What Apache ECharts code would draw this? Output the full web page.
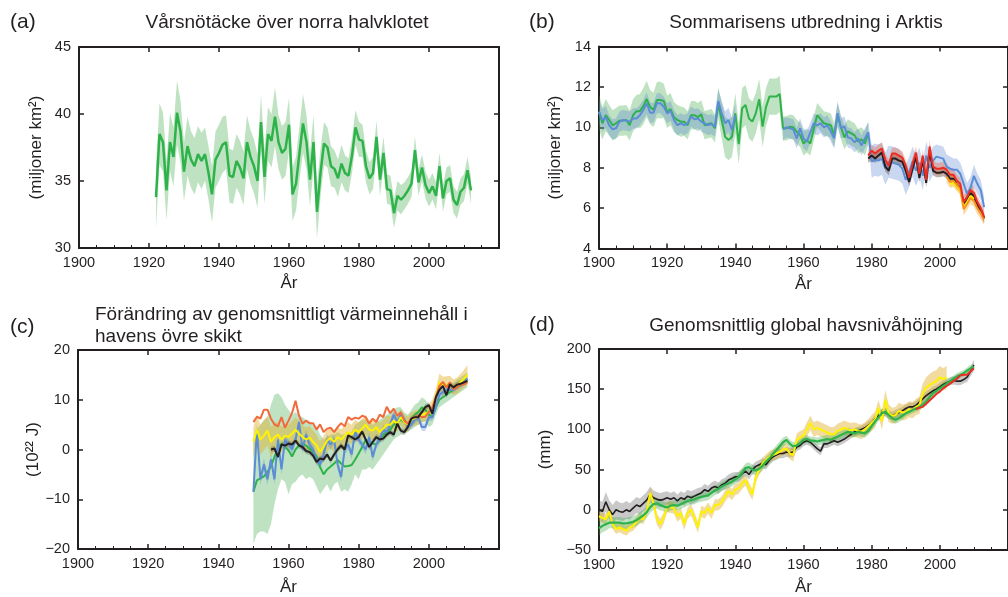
<!DOCTYPE html>
<html><head><meta charset="utf-8">
<script src="https://cdn.jsdelivr.net/npm/echarts@6/dist/echarts.min.js"></script>
<style>html,body{margin:0;padding:0;background:#fff}#c{width:1008px;height:597px}</style>
</head><body><div id="c"></div>
<script>
// ---------- Panel (a): spring snow cover, 1922-2012 ----------
const snowStart = 1922;
const snow = [33.8,38.5,37.9,34.3,37.9,36.8,40.1,38.7,35.7,37.6,
  36.6,36.1,37.0,36.5,37.0,35.6,34.0,36.6,37.1,37.7,
  37.9,35.4,35.3,36.5,36.0,35.2,37.9,36.8,36.1,35.0,
  39.4,35.3,38.5,38.0,39.8,37.9,37.1,37.4,39.2,34.0,
  34.8,37.1,39.3,37.9,35.1,37.9,32.7,35.6,37.8,37.5,
  36.1,35.9,35.2,36.3,35.6,35.4,36.9,39.0,38.1,38.0,
  36.1,35.2,35.6,38.3,35.1,37.1,34.4,34.3,32.6,33.9,
  33.6,33.9,34.3,34.8,37.3,34.9,36.0,34.7,34.1,34.6,
  33.9,36.1,33.7,35.0,35.2,33.6,33.2,34.2,34.5,35.8,
  34.3];
const snowErr = [2.3,2.3,2.2,2.2,2.2,2.2,2.4,2.3,2.2,2.2,
  2.1,2.1,2.1,2.1,2.0,2.0,2.1,2.1,2.1,2.1,
  2.0,2.0,2.0,2.0,2.0,2.0,2.0,2.0,2.0,2.0,
  2.0,2.0,2.0,2.0,2.2,2.0,2.0,2.0,2.0,2.0,
  2.0,2.0,2.2,2.0,2.0,2.0,2.0,1.8,1.6,1.5,
  1.5,1.4,1.4,1.4,1.3,1.3,1.3,1.3,1.3,1.2,
  1.2,1.2,1.2,1.2,1.2,1.2,1.1,1.1,1.1,1.1,
  1.1,1.0,1.0,1.0,1.0,1.0,1.0,1.0,1.0,1.0,
  1.0,1.0,1.0,1.0,1.0,1.0,1.0,1.0,1.0,1.0,
  1.0];

// ---------- Panel (b): Arctic summer sea ice ----------
const iceGreenStart = 1900;
const iceGreen = [10.77,10.2,10.6,10.36,10.1,10.2,10.33,10.33,10.36,10.1,
  10.6,10.8,10.8,11.05,11.4,11.0,10.86,11.35,11.35,11.3,
  10.77,10.9,10.5,10.36,10.28,10.28,10.1,10.6,10.6,10.5,
  10.64,10.1,10.16,10.2,9.95,11.19,10.36,9.53,9.37,9.53,
  10.69,9.17,10.94,11.1,10.44,10.28,10.69,11.39,10.03,11.0,
  11.52,11.52,11.52,11.65,9.95,9.95,10.03,10.0,9.78,9.62,
  9.2,9.35,9.2,9.9,10.6,10.4,10.2,10.15,10.1,9.6,
  10.6,10.0,9.5,9.8,9.7,9.6,9.3,9.4,9.2,9.7];
const iceGreenErr = [0.85,0.8,0.8,0.75,0.75,0.75,0.75,0.75,0.75,0.75,
  0.8,0.8,0.85,0.9,0.9,0.85,0.85,0.9,0.9,0.85,
  0.8,0.8,0.75,0.75,0.75,0.7,0.7,0.7,0.7,0.7,
  0.7,0.7,0.7,0.7,0.7,0.75,0.9,1.0,1.0,1.0,
  1.0,1.0,1.0,1.0,1.0,1.0,1.0,1.0,1.0,0.95,
  0.9,0.9,0.9,0.9,0.6,0.6,0.6,0.6,0.6,0.6,
  0.6,0.6,0.6,0.6,0.6,0.6,0.6,0.6,0.6,0.6,
  0.6,0.6,0.6,0.6,0.6,0.6,0.6,0.6,0.6,0.6];
const iceBlueEarlyStart = 1900;
const iceBlueEarly = [10.77,10.36,10.5,10.1,9.9,9.95,10.28,10.36,10.33,10.28,
  10.44,10.44,10.6,10.86,11.19,10.72,10.72,11.19,11.19,11.02,
  10.69,10.82,10.36,10.11,10.2,10.11,10.2,10.53,10.4,10.44,
  10.28,10.2,10.11,10.16,10.03,11.3,10.69,10.2,10.36,9.87,
  10.6];
const iceBlueEarlyErr = [0.6,0.55,0.55,0.5,0.5,0.5,0.5,0.5,0.5,0.5,
  0.5,0.5,0.5,0.5,0.55,0.5,0.5,0.5,0.5,0.5,
  0.5,0.5,0.5,0.5,0.5,0.5,0.5,0.5,0.5,0.5,
  0.5,0.5,0.5,0.5,0.5,0.6,0.6,0.6,0.6,0.6,
  0.6];
const iceBlueLateStart = 1954;
const iceBlueLate = [9.9,10.0,9.95,9.9,9.45,9.95,9.45,9.3,9.75,10.2,
  10.1,10.2,10.0,10.1,9.8,9.45,10.7,9.95,10.05,9.5,
  9.45,9.25,9.45,9.1,9.45,9.75,8.3,8.4,8.35,8.45,
  7.95,8.3,8.25,8.2,8.15,7.95,7.4,7.8,8.3,7.85,
  8.25,7.6,8.6,8.0,8.35,8.55,8.5,8.45,8.05,7.95,
  7.9,7.9,7.7,7.2,6.7,7.0,7.6,7.2,6.9,6.05];
const iceBlueLateErr = [0.55,0.5,0.5,0.5,0.5,0.5,0.5,0.5,0.5,0.5,
  0.5,0.5,0.5,0.5,0.5,0.5,0.6,0.5,0.5,0.5,
  0.5,0.5,0.5,0.5,0.5,0.5,0.8,0.8,0.8,0.8,
  0.8,0.8,0.8,0.8,0.8,0.75,0.75,0.75,0.75,0.75,
  0.75,0.7,0.7,0.7,0.7,0.6,0.6,0.6,0.6,0.6,
  0.55,0.55,0.55,0.55,0.55,0.55,0.55,0.5,0.5,0.5];
const iceBlackStart = 1979;
const iceBlack = [8.45,8.6,8.45,8.6,8.75,8.05,7.85,8.45,8.45,8.35,
  8.3,7.85,7.3,7.95,8.55,7.5,8.4,7.25,8.85,7.85,
  7.75,7.75,7.8,7.7,7.45,7.45,7.15,7.0,6.15,6.4,
  6.75,6.6,6.15,5.85,5.5];
const iceBlackErr = [0.22,0.22,0.22,0.22,0.22,0.22,0.22,0.22,0.22,0.22,
  0.22,0.22,0.22,0.22,0.22,0.22,0.22,0.22,0.22,0.22,
  0.22,0.22,0.22,0.22,0.22,0.22,0.22,0.22,0.22,0.22,
  0.22,0.22,0.22,0.22,0.22];
const iceRedStart = 1979;
const iceRed = [8.6,8.85,8.7,8.85,8.95,8.4,8.1,8.7,8.7,8.6,
  8.5,8.1,7.5,8.2,8.75,7.7,8.6,7.4,9.05,8.05,
  7.95,7.95,8.0,7.9,7.65,7.65,7.35,7.2,6.3,6.55,
  6.9,6.75,6.3,6.0,5.55];
const iceRedErr = [0.3,0.3,0.3,0.3,0.3,0.3,0.3,0.3,0.3,0.3,
  0.3,0.3,0.3,0.3,0.3,0.3,0.3,0.3,0.3,0.3,
  0.3,0.3,0.3,0.3,0.3,0.3,0.3,0.3,0.3,0.3,
  0.3,0.3,0.3,0.3,0.3];
const iceOrangeStart = 2002;
const iceOrange = [7.55,7.3,7.35,7.15,6.95,5.95,6.2,6.5,6.35,6.0,5.75,5.45];
const iceOrangeErr = [0.3,0.3,0.3,0.3,0.3,0.3,0.3,0.3,0.3,0.3,0.3,0.3];
const iceYellowStart = 2003;
const iceYellow = [7.2,7.25,7.1,6.85,6.05,6.3,6.6,6.45];
const iceYellowErr = [0.15,0.15,0.15,0.15,0.15,0.15,0.15,0.15];

// ---------- Panel (c): upper ocean heat content, 1950-2011 ----------
const ohcStart = 1950;
const ohcOrange = [5.5,6.6,6.2,8.0,8.0,6.2,5.05,4.65,6.5,4.4,
  5.8,7.3,9.8,6.8,5.2,5.8,5.3,5.3,4.0,5.05,
  3.5,4.2,4.4,3.5,4.5,5.3,4.65,6.5,6.0,6.4,
  6.2,6.8,6.5,5.2,6.2,5.5,7.0,6.5,8.6,7.3,
  8.2,6.8,7.5,5.8,5.2,6.2,6.6,6.8,6.5,6.6,
  7.5,8.5,10.5,12.8,13.6,12.5,13.5,12.1,12.5,13.0,
  13.1,13.6];
const ohcYellow = [1.5,4.0,2.0,2.8,3.8,1.5,2.5,3.0,2.0,2.8,
  2.5,3.2,4.0,3.2,2.5,2.0,2.4,1.5,0.8,-0.5,
  0.5,1.8,2.3,1.5,2.5,2.0,2.8,3.5,3.0,4.0,
  3.5,4.2,5.0,4.0,3.8,4.5,3.5,4.2,5.0,5.0,
  5.8,5.2,6.5,5.5,5.0,6.0,6.3,6.5,7.0,7.2,
  7.5,8.5,10.5,13.5,12.8,13.0,13.2,12.5,12.8,13.5,
  14.2,15.0];
const ohcYellowErr = [3,3,3,3,3,3,2.8,2.6,2.5,2.5,
  2.5,2.5,2.5,2.5,2.4,2.4,2.3,2.3,2.2,2.2,
  2.2,2.2,2.1,2.1,2,2,2,2,2,2,
  2,2,2,1.9,1.9,1.8,1.8,1.8,1.8,1.7,
  1.7,1.7,1.6,1.6,1.6,1.5,1.5,1.5,1.5,1.5,
  1.5,1.5,1.6,1.8,1.8,1.7,1.6,1.6,1.6,1.7,
  1.8,2.0];
const ohcBlue = [-8.5,4.0,-6.0,-3.0,-6.0,-2.0,-6.0,2.0,-4.0,2.0,
  1.0,0.0,2.0,5.5,0.0,3.0,1.0,0.0,-2.0,-3.0,
  -1.0,2.0,1.0,2.0,-3.0,-5.5,0.0,1.0,-1.0,3.5,
  2.0,1.0,0.0,2.5,-1.5,1.0,2.0,4.0,3.5,5.0,
  7.0,5.5,7.0,6.0,4.5,5.0,6.0,6.5,4.5,4.5,
  6.5,6.5,8.5,11.0,11.5,12.0,12.0,12.0,12.5,13.0,
  13.5,14.2];
const ohcBlueErr = [1.2,1.2,1.2,1.2,1.2,1.1,1.1,1.1,1.1,1.0,
  1.0,1.0,1.0,1.0,1.0,1.0,1.0,1.0,1.0,1.0,
  1.0,1.0,1.0,1.0,1.0,1.0,1.0,1.0,1.0,1.0,
  0.9,0.9,0.9,0.9,0.9,0.9,0.9,0.9,0.9,0.9,
  0.8,0.8,0.8,0.8,0.8,0.8,0.8,0.8,0.8,0.8,
  0.7,0.7,0.7,0.7,0.7,0.7,0.6,0.6,0.6,0.6,
  0.6,0.6];
const ohcGreen = [-8.5,-6.2,-5.8,-5.4,-4.5,-3.4,-1.5,0.3,1.2,0.5,
  -0.2,-1.4,0.0,0.8,1.2,0.8,0.2,-0.5,-1.4,-3.5,
  -5.0,-4.0,-3.4,-2.8,-2.1,-2.8,-3.4,-3.3,-3.1,-2.0,
  -0.8,0.5,1.9,1.5,1.2,1.0,2.0,3.0,3.5,4.0,
  5.0,5.5,6.0,5.5,5.0,6.0,7.0,7.5,8.5,8.0,
  7.0,6.5,8.5,10.0,10.5,11.0,11.5,12.0,12.5,13.0,
  13.5,14.2];
const ohcGreenLow = [-19,-17,-16.5,-16.5,-17,-15,-11,-8,-6,-6.5,
  -9,-7,-6.5,-5.5,-5,-6,-5.5,-6,-7.5,-9,
  -8,-7,-8.5,-7,-6.5,-8.5,-8,-8.5,-7,-5,
  -6,-4,-4,-3.5,-4,-3,-2,-1,0,1,
  2,2.5,3,3,3.5,4,4.5,5,5.5,5.5,
  4.5,5,7,8.5,9,9.5,10,10.5,11,11.5,
  12,12.5];
const ohcGreenHigh = [2,4,5,6,6.5,9,11,11.3,10.5,9,
  8,7,7.5,7,6.5,6,5.5,5,4.5,3,
  2,2.5,3,3,3.5,3,3,3,3.5,5,
  5.5,6,6,5.5,5,5.5,6,6.5,7,7.5,
  8,8.5,8.5,7.5,7,8,9,9.5,10.5,10,
  9,8.5,10,11.5,12,12.5,13,13.5,14,14.5,
  15,15.5];
const ohcBlackStart = 1955;
const ohcBlack = [0.0,0.2,-1.5,1.0,0.8,1.2,1.0,1.8,0.8,0.5,
  -0.3,-0.5,-1.2,-2.5,-1.8,-2.0,-1.0,-2.2,-1.0,0.0,
  0.8,0.0,2.8,2.5,2.0,2.5,3.6,2.0,0.5,1.5,
  2.5,2.0,2.2,3.0,3.5,3.0,5.2,3.8,3.5,4.5,
  6.2,6.5,6.5,7.5,8.5,8.9,7.2,10.5,12.0,12.8,
  10.9,13.1,12.5,13.0,13.2,13.5,13.8];
const ohcBlackErr = [0.6,0.6,0.6,0.6,0.6,0.6,0.6,0.6,0.6,0.6,
  0.6,0.6,0.6,0.6,0.6,0.6,0.6,0.6,0.6,0.6,
  0.6,0.6,0.6,0.6,0.6,0.6,0.6,0.6,0.6,0.6,
  0.6,0.6,0.6,0.6,0.6,0.6,0.6,0.6,0.6,0.6,
  0.6,0.6,0.6,0.6,0.6,0.6,0.6,0.6,0.6,0.6,
  0.6,0.6,0.6,0.6,0.6,0.6,0.6];

// ---------- Panel (d): global mean sea level ----------
const seaStart = 1900;
const seaBlack = [0,-2,10,0,-6,0,-2,-3,0,-2,
  2,6,4,8,12,19,15,13,12,13,
  15,13,15,11,15,13,17,15,17,19,
  21,25,23,27,29,27,31,33,37,39,
  41,41,45,48,44,50,54,56,58,56,
  62,66,68,70,70,72,71,72,78,80,
  84,86,84,80,76,73,82,82,84,86,
  84,86,88,91,94,97,98,100,102,105,
  108,113,117,121,121,118,117,119,121,123,
  126,128,128,130,134,138,142,145,148,150,
  153,156,158,160,161,160,160,162,165,172,
  180];
const seaBlackErr = [12,12,12,12,12,12,11,11,11,10,
  10,10,10,10,10,10,9,9,9,9,
  8,8,8,8,8,8,8,8,8,8,
  7,7,7,7,7,7,7,7,7,7,
  6,6,6,6,6,6,6,6,6,6,
  6,6,6,6,6,6,6,6,5,5,
  5,5,5,5,5,5,5,5,5,5,
  5,5,5,5,5,5,5,5,5,5,
  5,5,5,5,5,5,5,5,5,5,
  5,5,5,5,5,5,5,5,5,5,
  5,5,5,5,5,5,5,5,6,6,
  7];
const seaGreen = [-23,-20,-18,-16,-16,-16,-16,-17,-17,-16,
  -15,-13,-10,-7,-3,3,7,8,6,4,
  3,5,6,5,7,9,11,12,13,15,
  16,17,18,21,24,26,29,31,33,35,
  38,41,46,52,53,50,49,51,55,60,
  64,69,74,79,84,87,82,79,80,83,
  87,88,86,86,85,86,87,88,87,89,
  91,93,95,97,96,95,97,96,95,98,
  104,110,115,120,122,118,114,112,114,117,
  120,122,124,126,128,131,135,140,145,148,
  151,154,157,160,163,166,168,170,173,176,
  178];
const seaGreenErr = [9,8,8,7,7,7,7,7,7,7,
  7,7,7,7,7,7,7,7,7,6,
  6,6,6,6,6,6,6,6,6,6,
  6,6,6,6,6,6,6,6,6,6,
  6,6,6,6,6,6,6,6,6,6,
  6,6,6,6,6,5,5,5,5,5,
  5,5,5,5,5,5,5,5,5,5,
  5,5,5,5,5,5,5,5,5,5,
  5,5,5,5,5,5,5,5,5,5,
  4,4,4,4,4,4,4,4,4,4,
  4,4,4,4,4,4,4,4,4,4,
  4];
const seaYellow = [-8,-10,-12,-2,-18,-24,-22,-24,-26,-22,
  -20,-15,-10,-12,-2,21,8,-12,-18,-10,
  4,3,2,-8,-4,-18,-4,0,-10,-22,
  -2,-4,2,-4,6,6,10,17,23,19,
  25,27,33,37,27,19,41,50,58,62,
  66,68,70,72,75,76,70,68,87,90,
  92,100,108,100,102,100,98,96,94,94,
  98,100,102,100,99,100,98,97,100,104,
  108,112,127,110,137,120,117,118,123,121,
  122,125,124,128,130,145,152,155,158,160,
  165,162,165];
const seaYellowErr = [6,6,6,6,6,6,6,6,6,6,
  6,6,6,6,6,7,7,7,7,7,
  7,7,7,7,7,7,7,7,7,7,
  7,7,7,7,7,7,7,7,7,7,
  7,7,7,7,7,7,7,7,7,7,
  7,7,7,7,7,7,7,8,8,8,
  8,9,9,9,9,9,9,9,9,9,
  9,9,9,9,9,9,9,9,9,9,
  10,10,10,11,12,11,10,10,10,10,
  10,10,10,10,11,12,13,14,14,14,
  14,14,14];
const seaRedStart = 1993;
const seaRed = [125,127,128,132,136,140,144,147,151,154,157,160,163,167,168,168,172,176];

// ---------- Text ----------
const yearTicks = {min: 1900, max: 2020, step: 20};
const xName = 'År';
const panelLabels = ['(a)', '(b)', '(c)', '(d)'];
const panelTitles = ['Vårsnötäcke över norra halvklotet', 'Sommarisens utbredning i Arktis',
  'Förändring av genomsnittligt värmeinnehåll i', 'havens övre skikt', 'Genomsnittlig global havsnivåhöjning'];
const yNames = ['(miljoner km\u00b2)', '(miljoner km\u00b2)', '(10\u00b2\u00b2 J)', '(mm)'];
const yRanges = [[30, 45, 5], [4, 14, 2], [-20, 20, 10], [-50, 200, 50]];

// ---------- Styling ----------
const FONT = '"Liberation Sans", Arial, Helvetica, sans-serif';
const INK = '#231f20';
const GREEN = '#2eb34a', GREEN_BAND = 'rgba(60,170,70,0.33)';
const BLUE = '#5b8dd6', BLUE_BAND = 'rgba(90,130,210,0.32)';
const RED = '#ec2d24', RED_BAND = 'rgba(235,90,50,0.35)';
const ORANGE_B = '#f7941d', ORANGE_B_BAND = 'rgba(247,148,29,0.35)';
const ORANGE_C = '#f26a3b';
const YELLOW = '#fff200', YELLOW_BAND = 'rgba(225,175,40,0.45)';
const BLACK = '#231f20', GREY_BAND = 'rgba(90,90,90,0.33)', BROWN_BAND = 'rgba(110,80,70,0.45)';

const grids = [
  {left: 79, top: 47, width: 420, height: 201},
  {left: 599, top: 46.5, width: 420, height: 202},
  {left: 78, top: 350, width: 421, height: 202},
  {left: 599, top: 349, width: 420, height: 203}
];
const xNameGaps = [27, 27, 30, 29];
const yNameGaps = [34, 35, 35, 45];

function yrs(start, vals) { return vals.map((v, i) => [start + i, v]); }
function lineS(g, start, vals, color, width, z) {
  return {type: 'line', xAxisIndex: 2 * g, yAxisIndex: 2 * g, data: yrs(start, vals),
    symbol: 'none', showSymbol: false, lineStyle: {color, width}, itemStyle: {color},
    z, silent: true, animation: false, emphasis: {disabled: true}};
}
// Band polygon drawn through the axes' own scales (api.coord)
function bandS(g, start, lo, hi, color, z) {
  const rows = lo.map((l, i) => [start + i, l, hi[i]]);
  return {type: 'custom', coordinateSystem: 'cartesian2d', xAxisIndex: 2 * g, yAxisIndex: 2 * g,
    data: rows, encode: {x: 0, y: [1, 2]}, z, silent: true, animation: false, clip: true,
    renderItem: function (params, api) {
      if (params.dataIndex !== 0) return null;
      const pts = [];
      for (let i = 0; i < rows.length; i++) pts.push(api.coord([rows[i][0], rows[i][2]]));
      for (let i = rows.length - 1; i >= 0; i--) pts.push(api.coord([rows[i][0], rows[i][1]]));
      return {type: 'polygon', shape: {points: pts}, style: {fill: color, stroke: null}};
    }};
}
function errBand(g, start, vals, err, color, z) {
  return bandS(g, start, vals.map((v, i) => v - err[i]), vals.map((v, i) => v + err[i]), color, z);
}

const axisLine = {show: true, onZero: false, lineStyle: {color: INK, width: 2}};
const axisTick = {show: true, inside: true, length: 5, lineStyle: {color: INK, width: 1.5}};
const xAxes = [], yAxes = [];
grids.forEach((gr, g) => {
  xAxes.push({type: 'value', gridIndex: g, position: 'bottom', min: yearTicks.min, max: yearTicks.max, interval: yearTicks.step,
    axisLine, axisTick, minorTick: {show: true, splitNumber: 4, length: 3, lineStyle: {color: INK, width: 1}},
    splitLine: {show: false}, minorSplitLine: {show: false},
    axisLabel: {color: INK, fontSize: 14.5, fontFamily: FONT, margin: 7, showMaxLabel: false, formatter: v => String(v)},
    name: xName, nameLocation: 'middle', nameGap: xNameGaps[g], nameTextStyle: {color: INK, fontSize: 17, fontFamily: FONT}});
  xAxes.push({type: 'value', gridIndex: g, position: 'top', min: yearTicks.min, max: yearTicks.max, interval: yearTicks.step,
    axisLine, axisTick, axisLabel: {show: false}, splitLine: {show: false}});
  const r = yRanges[g];
  yAxes.push({type: 'value', gridIndex: g, position: 'left', min: r[0], max: r[1], interval: r[2],
    axisLine, axisTick, splitLine: {show: false},
    axisLabel: {color: INK, fontSize: 14.5, fontFamily: FONT, margin: 8, formatter: v => String(v).replace('-', '\u2212')},
    name: yNames[g], nameLocation: 'middle', nameRotate: 90, nameGap: yNameGaps[g],
    nameTextStyle: {color: INK, fontSize: 17, fontFamily: FONT}});
  yAxes.push({type: 'value', gridIndex: g, position: 'right', min: r[0], max: r[1], interval: r[2],
    axisLine, axisTick, axisLabel: {show: false}, splitLine: {show: false}});
});

const series = [
  // (a)
  errBand(0, snowStart, snow, snowErr, GREEN_BAND, 1),
  lineS(0, snowStart, snow, GREEN, 2.5, 5),
  // (b)
  errBand(1, iceGreenStart, iceGreen, iceGreenErr, GREEN_BAND, 1),
  errBand(1, iceBlueEarlyStart, iceBlueEarly, iceBlueEarlyErr, BLUE_BAND, 1),
  errBand(1, iceBlueLateStart, iceBlueLate, iceBlueLateErr, BLUE_BAND, 1),
  errBand(1, iceBlackStart, iceBlack, iceBlackErr, BROWN_BAND, 1),
  errBand(1, iceRedStart, iceRed, iceRedErr, RED_BAND, 1),
  errBand(1, iceOrangeStart, iceOrange, iceOrangeErr, ORANGE_B_BAND, 1),
  errBand(1, iceYellowStart, iceYellow, iceYellowErr, 'rgba(255,220,0,0.4)', 1),
  lineS(1, iceGreenStart, iceGreen, GREEN, 2, 5),
  lineS(1, iceBlueEarlyStart, iceBlueEarly, BLUE, 2, 6),
  lineS(1, iceBlueLateStart, iceBlueLate, BLUE, 2, 6),
  lineS(1, iceBlackStart, iceBlack, BLACK, 2, 7),
  lineS(1, iceYellowStart, iceYellow, YELLOW, 2, 7),
  lineS(1, iceOrangeStart, iceOrange, ORANGE_B, 2, 8),
  lineS(1, iceRedStart, iceRed, RED, 2, 9),
  // (c)
  bandS(2, ohcStart, ohcGreenLow, ohcGreenHigh, GREEN_BAND, 1),
  errBand(2, ohcStart, ohcYellow, ohcYellowErr, YELLOW_BAND, 1),
  errBand(2, ohcStart, ohcBlue, ohcBlueErr, BLUE_BAND, 1),
  errBand(2, ohcBlackStart, ohcBlack, ohcBlackErr, GREY_BAND, 1),
  lineS(2, ohcStart, ohcGreen, GREEN, 2, 5),
  lineS(2, ohcStart, ohcBlue, BLUE, 2, 6),
  lineS(2, ohcStart, ohcYellow, YELLOW, 2, 7),
  lineS(2, ohcStart, ohcOrange, ORANGE_C, 2, 8),
  lineS(2, ohcBlackStart, ohcBlack, BLACK, 2, 9),
  // (d)
  errBand(3, seaStart, seaBlack, seaBlackErr, GREY_BAND, 1),
  errBand(3, seaStart, seaYellow, seaYellowErr, YELLOW_BAND, 1),
  errBand(3, seaStart, seaGreen, seaGreenErr, GREEN_BAND, 1),
  lineS(3, seaStart, seaBlack, BLACK, 1.6, 5),
  lineS(3, seaStart, seaYellow, YELLOW, 2, 6),
  lineS(3, seaStart, seaGreen, GREEN, 2.2, 7),
  lineS(3, seaRedStart, seaRed, RED, 2, 8)
];

function txt(text, x, y, size, align) {
  return {type: 'text', x, y, silent: true,
    style: {text, fill: INK, font: size + 'px ' + FONT, textAlign: align, textVerticalAlign: 'middle'}};
}
const graphics = [
  txt(panelLabels[0], 10, 22, 21, 'left'),
  txt(panelTitles[0], 287, 22.5, 19, 'center'),
  txt(panelLabels[1], 529, 22, 21, 'left'),
  txt(panelTitles[1], 806, 22.5, 19, 'center'),
  txt(panelLabels[2], 10, 327, 21, 'left'),
  txt(panelTitles[2], 95, 314.5, 19, 'left'),
  txt(panelTitles[3], 95, 336.7, 19, 'left'),
  txt(panelLabels[3], 529, 325, 21, 'left'),
  txt(panelTitles[4], 806, 325.3, 19, 'center')
];

const chart = echarts.init(document.getElementById('c'), null, {renderer: 'canvas'});
chart.setOption({
  animation: false,
  backgroundColor: '#fff',
  textStyle: {fontFamily: FONT},
  grid: grids,
  xAxis: xAxes,
  yAxis: yAxes,
  series,
  graphic: graphics
});
</script></body></html>
